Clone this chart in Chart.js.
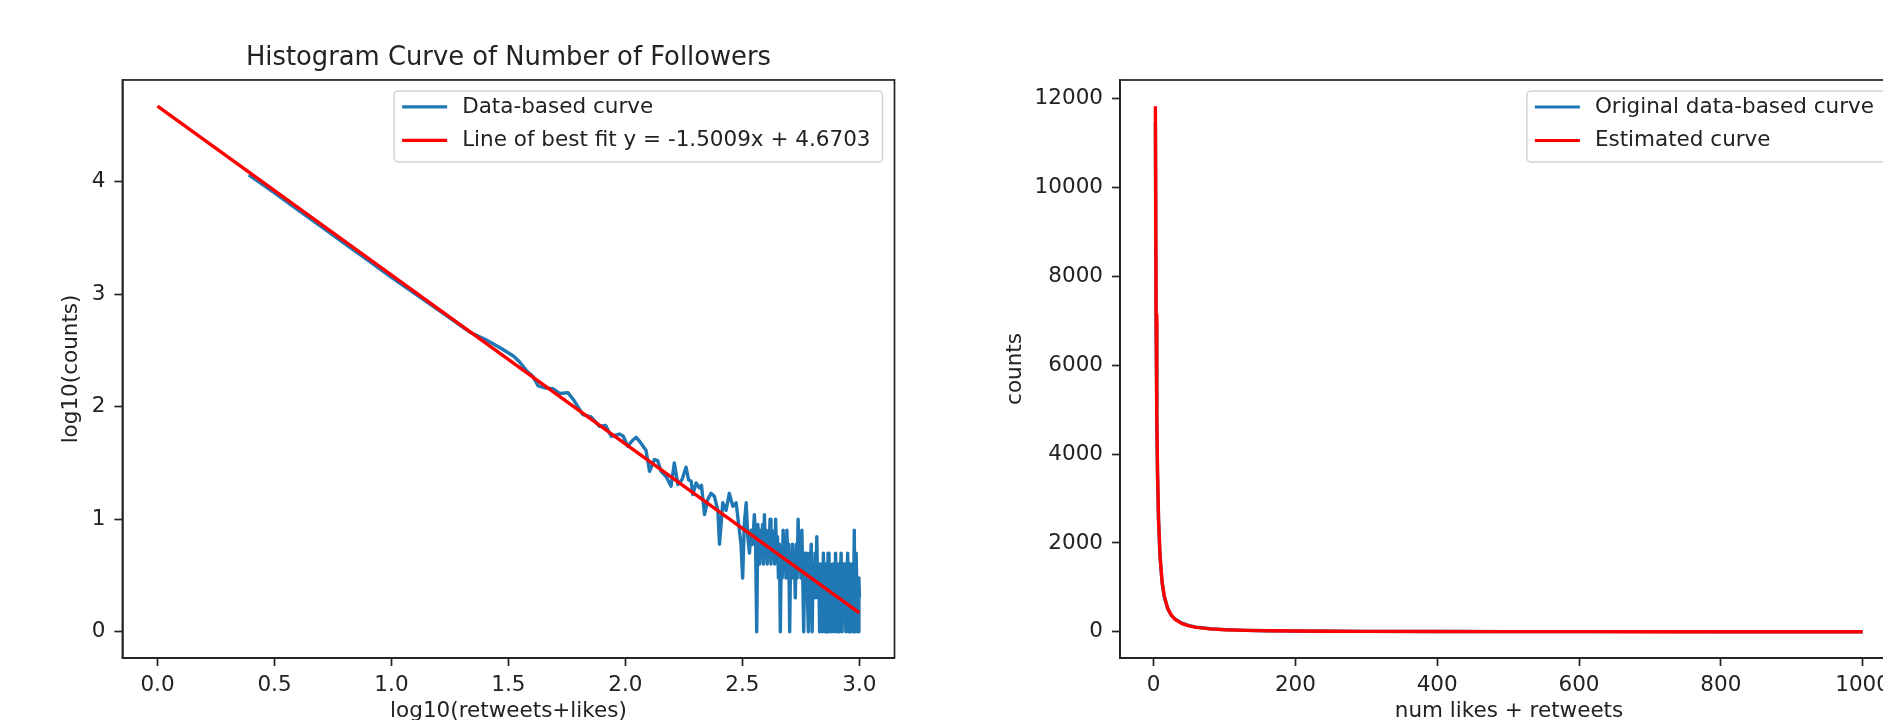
<!DOCTYPE html>
<html>
<head>
<meta charset="utf-8">
<title>Histogram Curve of Number of Followers</title>
<script src="https://cdn.jsdelivr.net/npm/chart.js@4.4.1/dist/chart.umd.min.js"></script>
<style>
  html, body { margin:0; padding:0; background:#fff; overflow:hidden; width:1883px; height:720px; }
  canvas { position:absolute; top:0; }
  #left { left:0; }
  #right { left:930px; }
</style>
</head>
<body>
<canvas id="left" width="920" height="760"></canvas>
<canvas id="right" width="1000" height="760"></canvas>
<script>
// ---- left panel: log10 histogram + fitted line ----
const curveX = [
  0.39, 0.5, 0.6, 0.7, 0.8, 0.9, 1.0, 1.1, 1.2, 1.3, 1.34,
  1.40, 1.464, 1.521, 1.547, 1.578, 1.604, 1.627, 1.66, 1.69, 1.72,
  1.754, 1.782, 1.818, 1.853, 1.889, 1.915, 1.939, 1.974, 1.99, 2.01,
  2.03, 2.046, 2.065, 2.088, 2.103, 2.124, 2.138, 2.152, 2.174, 2.195,
  2.209, 2.224, 2.242, 2.259, 2.27, 2.281, 2.288, 2.302, 2.316, 2.325,
  2.338, 2.352, 2.366, 2.38, 2.395, 2.402, 2.416, 2.43, 2.444, 2.459,
  2.473, 2.487, 2.494, 2.501, 2.508, 2.516, 2.523, 2.53, 2.537, 2.544,
  2.551, 2.556, 2.561, 2.566,
  2.570, 2.574, 2.578, 2.582, 2.586, 2.590, 2.594, 2.598, 2.602, 2.606,
  2.610, 2.614, 2.618, 2.622, 2.626, 2.630, 2.634, 2.638, 2.642, 2.646,
  2.650, 2.654, 2.658, 2.662, 2.666, 2.670, 2.674, 2.678, 2.682, 2.686,
  2.690, 2.694, 2.698, 2.702, 2.706, 2.710, 2.714, 2.718, 2.722, 2.726,
  2.730, 2.734, 2.738, 2.742, 2.746, 2.750, 2.754, 2.758, 2.762, 2.766,
  2.770, 2.774, 2.778, 2.782, 2.786, 2.790, 2.794, 2.798, 2.802, 2.806,
  2.810, 2.814, 2.818, 2.822, 2.826, 2.830, 2.834, 2.838, 2.842, 2.846,
  2.850, 2.854, 2.858, 2.862, 2.866, 2.870, 2.874, 2.878, 2.882, 2.886,
  2.890, 2.894, 2.898, 2.902, 2.906, 2.910, 2.914, 2.918, 2.922, 2.926,
  2.930, 2.934, 2.938, 2.942, 2.946, 2.950, 2.954, 2.958, 2.962, 2.966,
  2.970, 2.974, 2.978, 2.982, 2.986, 2.990, 2.994, 2.998, 3.000
];
const curveY = [
  4.06, 3.90, 3.75, 3.60, 3.45, 3.30, 3.15, 3.005, 2.86, 2.715, 2.657,
  2.60, 2.524, 2.45, 2.40, 2.318, 2.27, 2.185, 2.165, 2.16, 2.117,
  2.125, 2.05, 1.93, 1.91, 1.825, 1.834, 1.737, 1.757, 1.74, 1.648,
  1.70, 1.728, 1.68, 1.61, 1.426, 1.53, 1.52, 1.426, 1.38, 1.293,
  1.50, 1.308, 1.352, 1.462, 1.35, 1.337, 1.219, 1.322, 1.279, 1.301,
  1.041, 1.176, 1.23, 1.204, 1.079, 0.778, 1.146, 1.079, 1.23, 1.114,
  1.146, 0.903, 0.778, 0.477, 0.954, 1.146, 0.845, 0.699, 0.903, 0.778,
  1.041, 0.845, 0, 0.954,
  0.778, 0.602, 0.903, 0.699, 0.954, 0.602, 1.041, 0.699, 0.903, 0.602,
  0.845, 0.699, 1.0, 0.602, 0.903, 0.699, 0.845, 0.602, 1.0, 0.699,
  0.845, 0.477, 0.778, 0, 0.699, 0.477, 0.903, 0.602, 0.845, 0.477,
  0.903, 0.602, 0.778, 0, 0.699, 0.477, 0.778, 0.477, 0.699, 0.301,
  0.778, 0.477, 1.0, 0.602, 0.778, 0.477, 0.903, 0.477, 0, 0.699,
  0.477, 0.699, 0.301, 0, 0.699, 0.477, 0.778, 0, 0.602, 0.301,
  0.699, 0.477, 0.845, 0.301, 0.602, 0, 0.602, 0.301, 0, 0.699,
  0.301, 0, 0.602, 0, 0.699, 0, 0.602, 0.301, 0, 0.602,
  0.301, 0, 0.699, 0.301, 0, 0.602, 0, 0.477, 0.699, 0,
  0.602, 0.301, 0.602, 0, 0.477, 0.699, 0, 0.602, 0, 0.602,
  0.301, 0, 0.903, 0, 0.699, 0.301, 0, 0.477, 0.301
];
const fitX = [0, 3.0];
const fitY = [4.6703, 0.1676];
const leftXTicks = [0, 0.5, 1.0, 1.5, 2.0, 2.5, 3.0];
const leftYTicks = [0, 1, 2, 3, 4];

// ---- right panel: raw counts + estimated power-law curve ----
const countX = [2.5, 3.5, 4.5, 5.5, 7, 9, 12, 15, 20, 25, 30, 40, 50, 60, 80, 100, 130, 160, 200, 250, 300, 400, 500, 600, 700, 800, 900, 1000];
const origCounts = [11480, 6950, 4780, 3540, 2470, 1700, 1100, 790, 515, 370, 290, 195, 140, 105, 68, 50, 33, 24, 17, 12, 9, 6, 4, 3, 3, 2, 2, 2];
const estCounts = [11833, 7140, 4897, 3624, 2523, 1730, 1124, 804, 522, 373, 284, 184, 132, 100, 65, 47, 31.5, 23, 16.5, 11.8, 9.0, 5.8, 4.2, 3.2, 2.5, 2.1, 1.7, 1.5];
const rightXTicks = [0, 200, 400, 600, 800, 1000];
const rightYTicks = [0, 2000, 4000, 6000, 8000, 10000, 12000];

const BLUE = '#1f77b4', RED = '#ff0000', INK = '#222';
Chart.defaults.font.family = 'DejaVu Sans';
Chart.defaults.font.size = 21.5;
Chart.defaults.color = INK;

const pts = (xs, ys) => xs.map((x, i) => ({x, y: ys[i]}));

// matplotlib-like spines on all four sides
const frame = {
  id: 'frame',
  afterDatasetsDraw(chart){
    const {ctx, chartArea:a} = chart;
    ctx.save();
    ctx.strokeStyle = INK; ctx.lineWidth = 1.7;
    ctx.strokeRect(a.left, a.top, a.right - a.left, a.bottom - a.top);
    ctx.restore();
  }
};

// legend box in the upper right corner of the axes
const boxLegend = {
  id: 'boxLegend',
  afterDatasetsDraw(chart){
    const {ctx, chartArea:a} = chart;
    ctx.save();
    ctx.font = '21.5px "DejaVu Sans"';
    const items = chart.data.datasets.map(d => ({text: d.label, color: d.borderColor}));
    const tw = Math.max(...items.map(it => ctx.measureText(it.text).width));
    const w = 68 + tw + 12, h = 71;
    const x = a.right - 12 - w, y = a.top + 11;
    ctx.fillStyle = 'rgba(255,255,255,0.85)';
    ctx.strokeStyle = '#d4d4d4'; ctx.lineWidth = 1.5;
    ctx.beginPath(); ctx.roundRect(x, y, w, h, 4); ctx.fill(); ctx.stroke();
    items.forEach((it, i) => {
      const cy = y + 16 + i * 33.5;
      ctx.strokeStyle = it.color; ctx.lineWidth = 3.2;
      ctx.beginPath(); ctx.moveTo(x + 8, cy); ctx.lineTo(x + 53, cy); ctx.stroke();
      ctx.fillStyle = INK; ctx.textBaseline = 'middle'; ctx.textAlign = 'left';
      ctx.fillText(it.text, x + 68, cy);
    });
    ctx.restore();
  }
};

function axis(o){
  return {
    type: 'linear', min: o.min, max: o.max,
    afterBuildTicks: s => { s.ticks = o.ticks.map(v => ({value: v})); },
    afterFit: s => { if (o.width) s.width = o.width; if (o.height) s.height = o.height; },
    ticks: { callback: o.fmt, padding: o.tickPad, maxRotation: 0, autoSkip: false, color: INK },
    grid: { display: true, drawOnChartArea: false, drawTicks: true, tickLength: 8, tickWidth: 1.7, tickColor: INK },
    border: { display: true, color: INK, width: 1.7 },
    title: { display: true, text: o.title, color: INK, padding: o.titlePad }
  };
}

const line = (label, data, color, order) => ({
  label, data, borderColor: color, backgroundColor: color, borderWidth: 3.4,
  pointRadius: 0, tension: 0, borderJoinStyle: 'round', fill: false, order
});

new Chart(document.getElementById('left'), {
  type: 'line',
  data: { datasets: [
    line('Data-based curve', pts(curveX, curveY), BLUE, 1),
    line('Line of best fit y = -1.5009x + 4.6703', pts(fitX, fitY), RED, 0)
  ]},
  options: {
    responsive: false, animation: false,
    layout: { padding: { left: 0, right: 25.5, top: 0, bottom: 0 } },
    plugins: {
      legend: { display: false }, tooltip: { enabled: false },
      title: { display: true, text: 'Histogram Curve of Number of Followers', color: INK, fullSize: false,
               font: { size: 25.8, weight: 'normal' }, padding: { top: 43, bottom: 6 } }
    },
    scales: {
      x: axis({ min: -0.15, max: 3.15, ticks: leftXTicks, fmt: v => v.toFixed(1), tickPad: 7,
                height: 102, title: 'log10(retweets+likes)', titlePad: { top: 0, bottom: 36 } }),
      y: axis({ min: -0.2335, max: 4.9038, ticks: leftYTicks, fmt: v => String(v), tickPad: 9,
                width: 122.4, title: 'log10(counts)', titlePad: { top: 59, bottom: 0 } })
    }
  },
  plugins: [frame, boxLegend]
});

new Chart(document.getElementById('right'), {
  type: 'line',
  data: { datasets: [
    line('Original data-based curve', pts(countX, origCounts), BLUE, 1),
    line('Estimated curve', pts(countX, estCounts), RED, 0)
  ]},
  options: {
    responsive: false, animation: false,
    layout: { padding: { left: 0, right: 32, top: 80, bottom: 0 } },
    plugins: { legend: { display: false }, tooltip: { enabled: false } },
    scales: {
      x: axis({ min: -47.4, max: 1049.9, ticks: rightXTicks, fmt: v => String(v), tickPad: 7,
                height: 102, title: 'num likes + retweets', titlePad: { top: 0, bottom: 36 } }),
      y: axis({ min: -590, max: 12425, ticks: rightYTicks, fmt: v => String(v), tickPad: 9,
                width: 190, title: 'counts', titlePad: { top: 73, bottom: 0 } })
    }
  },
  plugins: [frame, boxLegend]
});
</script>
</body>
</html>
